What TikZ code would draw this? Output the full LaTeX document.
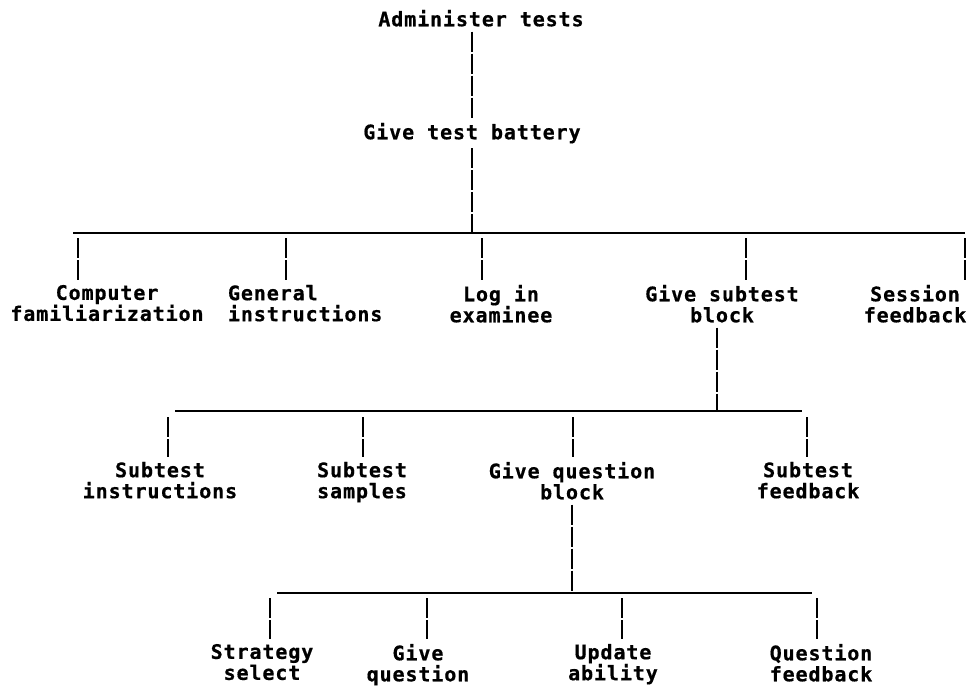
\documentclass[tikz,border=0pt]{standalone}
\usepackage{fontspec}
\setmonofont{DejaVu Sans Mono}[LetterSpace=4.5, BoldFeatures={FakeBold=0.6}]
\begin{document}
\begin{tikzpicture}[x=1pt,y=-1pt,
  lbl/.style={font=\fontsize{20}{21}\selectfont\ttfamily\bfseries, align=center,
    inner xsep=0pt, inner ysep=5pt, outer sep=0pt, anchor=north},
  vline/.style={line width=2.4pt, dash pattern=on 20pt off 2pt},
  bar/.style={line width=2pt}]
\fill[white] (0,0) rectangle (971,685);
\useasboundingbox (0,0) rectangle (971,685);

% level 0
\node[lbl] (adm) at (481,5) {Administer tests};
\node[lbl] (bat) at (472,118) {Give test battery};
\draw[vline] (adm.south -| bat.north) -- (bat.north);

% level 1
\coordinate (j1) at (472,233);
\coordinate (b1l) at (73,233);
\coordinate (b1r) at (965,233);
\draw[vline] (bat.south) -- (j1);
\draw[bar] (b1l) -- (b1r);

\node[lbl] (comp) at (107,280) {Computer\\familiarization};
\node[lbl, align=left, anchor=north west] (gen) at (228,280) {General\\instructions};
\node[lbl] (login) at (501,280) {Log in\\examinee};
\node[lbl] (gsub) at (722,280) {Give subtest\\block};
\node[lbl] (sess) at (915,280) {Session\\feedback};

\coordinate (c11) at (78,238);
\coordinate (c12) at (286,238);
\coordinate (c13) at (482,238);
\coordinate (c14) at (746,238);
\coordinate (c15) at (965,238);
\draw[vline] (c11) -- (c11 |- comp.north);
\draw[vline] (c12) -- (c12 |- gen.north);
\draw[vline] (c13) -- (c13 |- login.north);
\draw[vline] (c14) -- (c14 |- gsub.north);
\draw[vline] (c15) -- (c15 |- sess.north);

% level 2
\coordinate (j2) at (717,411);
\coordinate (b2l) at (175,411);
\coordinate (b2r) at (802,411);
\draw[vline] (gsub.south -| j2) -- (j2);
\draw[bar] (b2l) -- (b2r);

\node[lbl] (sti) at (160,457) {Subtest\\instructions};
\node[lbl] (ssa) at (362,457) {Subtest\\samples};
\node[lbl] (gqb) at (572,457) {Give question\\block};
\node[lbl] (sfb) at (808,457) {Subtest\\feedback};

\coordinate (c21) at (168,417);
\coordinate (c22) at (363,417);
\coordinate (c23) at (573,417);
\coordinate (c24) at (807,417);
\draw[vline] (c21) -- (c21 |- sti.north);
\draw[vline] (c22) -- (c22 |- ssa.north);
\draw[vline] (c23) -- (c23 |- gqb.north);
\draw[vline] (c24) -- (c24 |- sfb.north);

% level 3
\coordinate (j3) at (572,593);
\coordinate (b3l) at (277,593);
\coordinate (b3r) at (812,593);
\draw[vline] (gqb.south -| j3) -- (j3);
\draw[bar] (b3l) -- (b3r);

\node[lbl] (strat) at (262,639) {Strategy\\select};
\node[lbl] (giveq) at (418,639) {Give\\question};
\node[lbl] (upd) at (613,639) {Update\\ability};
\node[lbl] (qfb) at (821,639) {Question\\feedback};

\coordinate (c31) at (270,598);
\coordinate (c32) at (427,598);
\coordinate (c33) at (622,598);
\coordinate (c34) at (817,598);
\draw[vline] (c31) -- (c31 |- strat.north);
\draw[vline] (c32) -- (c32 |- giveq.north);
\draw[vline] (c33) -- (c33 |- upd.north);
\draw[vline] (c34) -- (c34 |- qfb.north);
\end{tikzpicture}
\end{document}
